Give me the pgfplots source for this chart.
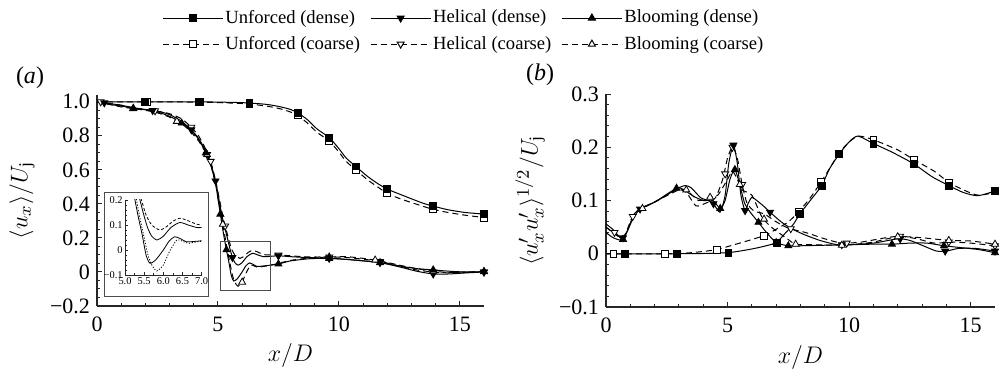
\documentclass[border=0pt]{standalone}
\usepackage{fontspec}
\setmainfont{Liberation Serif}
\usepackage{pgfplots}
\pgfplotsset{compat=1.18}
\usepackage{pgfplotstable}

% ---------- panel (a) line data ----------
\pgfplotstableread{
x y
0 1.0
2 1.0
4.2 1.0
6 0.995
7 0.985
7.6 0.97
8 0.955
8.3 0.935
8.7 0.895
9.1 0.84
9.6 0.79
10.0 0.725
10.3 0.67
10.7 0.62
11.2 0.56
11.6 0.52
12.0 0.487
12.5 0.458
13.0 0.43
13.5 0.403
13.9 0.387
14.5 0.366
15.2 0.35
16 0.34
}\UDa
\pgfplotstableread{
x y
0 1.0
2 1.0
4.2 0.998
6 0.99
7 0.975
7.6 0.958
8 0.94
8.3 0.92
8.7 0.875
9.1 0.82
9.6 0.77
10.0 0.705
10.3 0.65
10.7 0.60
11.2 0.54
11.6 0.5
12.0 0.462
12.5 0.432
13.0 0.408
13.5 0.385
13.9 0.368
14.5 0.35
15.2 0.334
16 0.32
}\UCa
\pgfplotstableread{
x y
0 1.0
0.5 0.99
1.0 0.98
1.5 0.965
2.0 0.955
2.5 0.945
3.0 0.925
3.5 0.885
3.9 0.835
4.2 0.785
4.5 0.71
4.7 0.64
4.9 0.535
5.0 0.46
5.1 0.38
5.2 0.31
5.3 0.25
5.39 0.2
5.5 0.135
5.6 0.085
5.7 0.055
5.83 0.04
6.0 0.055
6.2 0.09
6.43 0.11
6.65 0.1
6.87 0.09
7.0 0.09
7.5 0.095
8.0 0.09
8.5 0.086
9.0 0.083
9.6 0.08
10.2 0.075
10.8 0.068
11.7 0.055
12.5 0.03
13.2 0.005
13.9 -0.012
14.5 -0.012
15.2 -0.006
16 0.0
}\HDa
\pgfplotstableread{
x y
0 1.0
0.5 0.99
1 0.98
1.5 0.965
2.0 0.955
2.5 0.945
3.0 0.93
3.5 0.9
3.9 0.85
4.2 0.8
4.5 0.72
4.7 0.65
4.9 0.54
5.0 0.47
5.1 0.4
5.2 0.33
5.3 0.27
5.43 0.2
5.55 0.14
5.7 0.1
5.91 0.08
6.1 0.095
6.25 0.115
6.43 0.127
6.6 0.12
6.87 0.103
7.0 0.1
7.5 0.1
8.0 0.095
8.5 0.09
9.0 0.088
9.6 0.088
10.3 0.085
11 0.075
11.7 0.062
12.5 0.035
13.2 0.012
13.9 0.0
14.5 -0.005
15.2 -0.003
16 0.0
}\HCa
\pgfplotstableread{
x y
0 1.0
0.5 0.985
1 0.975
1.5 0.962
2.0 0.953
2.5 0.94
3.0 0.915
3.5 0.875
3.9 0.83
4.2 0.78
4.5 0.7
4.7 0.63
4.9 0.52
5.0 0.43
5.1 0.34
5.2 0.25
5.26 0.2
5.35 0.13
5.45 0.06
5.55 -0.02
5.65 -0.053
5.8 -0.04
6.0 0.0
6.15 0.035
6.3 0.053
6.45 0.045
6.6 0.033
6.8 0.034
7.0 0.037
7.5 0.047
8.0 0.065
8.8 0.078
9.6 0.08
10.2 0.075
10.8 0.068
11.7 0.055
12.5 0.035
13.2 0.02
13.9 0.012
14.5 0.005
15.2 0.0
16 0.002
}\BDa
\pgfplotstableread{
x y
0 1.0
0.5 0.985
1 0.97
1.5 0.96
2.0 0.95
2.5 0.935
3.0 0.91
3.3 0.885
3.6 0.86
3.9 0.82
4.2 0.77
4.5 0.7
4.7 0.63
4.9 0.52
5.0 0.44
5.1 0.36
5.2 0.28
5.3 0.2
5.4 0.12
5.5 0.05
5.6 -0.02
5.7 -0.06
5.83 -0.084
6.0 -0.06
6.15 -0.01
6.35 0.04
6.5 0.035
6.65 0.027
6.85 0.032
7.0 0.035
7.5 0.05
8.0 0.068
8.8 0.082
9.6 0.088
10.3 0.09
11 0.08
11.7 0.065
12.5 0.04
13.2 0.02
13.9 0.005
14.5 -0.003
15.2 0.0
16 0.003
}\BCa

\pgfplotsset{
  myaxis/.style={
    scale only axis,
    axis x line*=bottom, axis y line*=left,
    axis line style={line width=0.6pt, black!85},
    every tick/.style={black!85, line width=0.5pt},
    major tick length=2.6pt, minor tick length=1.5pt,
    tick align=inside,
    xmin=0, xmax=16,
    xtick={0,5,10,15}, xticklabels={0,5,10,15}, minor x tick num=4,
    tick label style={font=\fontsize{11}{12}\selectfont},
    xticklabel style={yshift=-2pt},
    label style={font=\fontsize{12.5}{14}\selectfont},
    xlabel={$x/D$},
    xlabel style={at={(axis description cs:0.5,-0.235)}, anchor=center},
    clip=false,
  },
  dense/.style={black, line width=0.5pt, solid},
  coarse/.style={black, line width=0.5pt, dash pattern=on 3pt off 2pt},
  mU/.style={mark=square*, mark size=1.7pt, mark options={solid, fill=black}},
  mUo/.style={mark=square*, mark size=1.7pt, mark options={solid, fill=white}},
  mH/.style={mark=triangle*, mark size=2pt, mark options={rotate=180, solid, fill=black}},
  mHo/.style={mark=triangle*, mark size=2pt, mark options={rotate=180, solid, fill=white}},
  mB/.style={mark=triangle*, mark size=2pt, mark options={solid, fill=black}},
  mBo/.style={mark=triangle*, mark size=2pt, mark options={solid, fill=white}},
}

\begin{document}
\begin{tikzpicture}
\path[use as bounding box] (0,0) rectangle (500pt,185pt);

% ================= panel (a) =================
\begin{axis}[myaxis,
  at={(48.5pt,32pt)}, anchor=south west,
  width=193.5pt, height=105.5pt,
  ymin=-0.2, ymax=1.04,
  ytick={-0.2,0,0.2,0.4,0.6,0.8,1.0},
  yticklabels={−0.2,0,0.2,0.4,0.6,0.8,1.0},
  minor y tick num=3,
  ylabel={$\langle u_x\rangle/U_{\mathrm{j}}$},
  ylabel style={at={(axis description cs:-0.194,0.5)}, anchor=center},
  legend columns=3,
  legend cell align=left,
  legend image code/.code={\draw[mark repeat=2,mark phase=2,#1] plot coordinates {(0pt,0pt)(15pt,0pt)(30pt,0pt)};},
  legend style={draw=none, fill=none, at={(axis description cs:0.948,1.303)}, anchor=center,
    font=\fontsize{9.3}{10.5}\selectfont, column sep=0pt, row sep=3pt,
    nodes={inner sep=1pt},
    /tikz/every even column/.append style={column sep=4pt}},
]
\addlegendimage{dense, mU}\addlegendentry{Unforced (dense)}
\addlegendimage{dense, mH}\addlegendentry{Helical (dense)}
\addlegendimage{dense, mB}\addlegendentry{Blooming (dense)}
\addlegendimage{coarse, mUo}\addlegendentry{Unforced (coarse)}
\addlegendimage{coarse, mHo}\addlegendentry{Helical (coarse)}
\addlegendimage{coarse, mBo}\addlegendentry{Blooming (coarse)}

\addplot[coarse, smooth, tension=0.4, forget plot] table {\UCa};
\addplot[dense, smooth, tension=0.4, forget plot] table {\UDa};
\addplot[coarse, smooth, tension=0.4, forget plot] table {\HCa};
\addplot[dense, smooth, tension=0.4, forget plot] table {\HDa};
\addplot[coarse, smooth, tension=0.4, forget plot] table {\BCa};
\addplot[dense, smooth, tension=0.4, forget plot] table {\BDa};

\addplot[only marks, mUo, forget plot] coordinates {(2.05,1.0)(4.25,1.0)(6.3,0.987)(8.3,0.92)(9.6,0.77)(10.7,0.60)(12.0,0.462)(13.9,0.368)(16,0.32)};
\addplot[only marks, mU, forget plot] coordinates {(1.98,1.0)(4.2,1.0)(6.3,0.992)(8.3,0.935)(9.6,0.79)(10.7,0.62)(12.0,0.487)(13.9,0.387)(16,0.34)};
\addplot[only marks, mHo, forget plot] coordinates {(0.15,1.0)(2.4,0.947)(3.9,0.85)(4.7,0.65)(5.3,0.27)(7.5,0.1)(9.6,0.088)(11.7,0.062)(13.9,0.0)(16,0.0)};
\addplot[only marks, mH, forget plot] coordinates {(0.3,0.994)(2.3,0.949)(3.9,0.835)(4.55,0.69)(4.9,0.535)(5.6,0.085)(7.5,0.095)(9.6,0.08)(11.7,0.055)(13.9,-0.012)(16,0.0)};
\addplot[only marks, mBo, forget plot] coordinates {(1.5,0.96)(3.3,0.885)(4.55,0.69)(5.2,0.28)(6.0,-0.06)(9.6,0.088)(11.5,0.07)(13.9,0.005)(16,0.003)};
\addplot[only marks, mB, forget plot] coordinates {(1.5,0.962)(3.5,0.875)(4.5,0.7)(5.1,0.34)(5.35,0.13)(7.5,0.047)(9.6,0.08)(11.7,0.055)(13.9,0.012)(16,0.002)};

\draw[black!70, line width=0.5pt] (axis cs:5.12,-0.11) rectangle (axis cs:7.19,0.18);
\end{axis}

% inset frame
\draw[black!70, line width=0.5pt, fill=white] (52pt,37pt) rectangle (104pt,89pt);
\begin{axis}[
  scale only axis,
  at={(62.5pt,47.5pt)}, anchor=south west,
  width=38.3pt, height=37.5pt,
  xmin=5, xmax=7, ymin=-0.1, ymax=0.2,
  axis x line*=bottom, axis y line*=left,
  axis line style={line width=0.4pt, black!85},
  every tick/.style={black!85, line width=0.3pt},
  major tick length=1.5pt, minor tick length=0.8pt,
  tick align=inside,
  xtick={5,5.5,6,6.5,7}, xticklabels={5.0,5.5,6.0,6.5,7.0},
  ytick={-0.1,0,0.1,0.2}, yticklabels={−0.1,0,0.1,0.2},
  minor x tick num=1, minor y tick num=4,
  tick label style={font=\fontsize{5.2}{6}\selectfont, inner sep=1pt},
]
\addplot[black, line width=0.4pt, dash pattern=on 1.5pt off 1pt, smooth, tension=0.4] table {\HCa};
\addplot[black, line width=0.4pt, smooth, tension=0.4] table {\HDa};
\addplot[black, line width=0.4pt, dash pattern=on 0.6pt off 0.8pt, smooth, tension=0.4] table {\BCa};
\addplot[black, line width=0.4pt, smooth, tension=0.4] table {\BDa};
\end{axis}

\node[font=\fontsize{12}{14}\selectfont] at (15pt,146pt) {(\textit{a})};
\node[font=\fontsize{12}{14}\selectfont] at (270pt,147.5pt) {(\textit{b})};

% ================= panel (b) =================
\begin{axis}[myaxis,
  at={(303pt,31.5pt)}, anchor=south west,
  width=194.5pt, height=106.5pt,
  ymin=-0.1, ymax=0.3,
  ytick={-0.1,0,0.1,0.2,0.3},
  yticklabels={−0.1,0,0.1,0.2,0.3},
  minor y tick num=4,
  ylabel={$\langle u'_x u'_x\rangle^{1/2}/U_{\mathrm{j}}$},
  ylabel style={at={(axis description cs:-0.195,0.5)}, anchor=center},
]
\addplot[coarse, smooth, tension=0.4] coordinates {(0,0)(2.5,0)(3.5,0.002)(4.5,0.0075)(5.5,0.02)(6.5,0.034)(7.0,0.046)(7.5,0.06)(7.93,0.079)(8.4,0.105)(8.85,0.135)(9.3,0.168)(9.6,0.19)(10,0.21)(10.4,0.221)(11,0.214)(12,0.195)(12.65,0.177)(13.5,0.155)(14.1,0.134)(14.7,0.12)(15.3,0.11)(16,0.115)};
\addplot[dense, smooth, tension=0.4] coordinates {(0,0)(2.9,0)(4,0.0005)(5,0.002)(5.5,0.005)(6,0.009)(6.5,0.014)(7.0,0.021)(7.4,0.04)(7.7,0.055)(7.98,0.075)(8.4,0.1)(8.87,0.128)(9.2,0.16)(9.59,0.187)(10,0.21)(10.36,0.221)(11,0.207)(11.8,0.19)(12.65,0.169)(13.4,0.145)(14.1,0.128)(14.7,0.115)(15.3,0.109)(16,0.118)};
\addplot[coarse, smooth, tension=0.4] coordinates {(0,0.05)(0.3,0.04)(0.7,0.03)(1.1,0.07)(1.4,0.085)(2,0.097)(2.9,0.12)(3.3,0.115)(3.7,0.09)(4.1,0.095)(4.5,0.105)(4.8,0.14)(5.0,0.18)(5.2,0.2)(5.4,0.18)(5.6,0.13)(5.8,0.095)(6.1,0.08)(6.5,0.075)(7.0,0.06)(7.5,0.048)(8.2,0.04)(9,0.028)(9.7,0.02)(10.5,0.022)(11.5,0.03)(12.1,0.033)(12.8,0.028)(13.5,0.02)(14.2,0.022)(15,0.02)(16,0.015)};
\addplot[dense, smooth, tension=0.4] coordinates {(0,0.056)(0.3,0.045)(0.65,0.028)(0.9,0.045)(1.12,0.072)(1.4,0.084)(2.0,0.097)(2.5,0.11)(2.9,0.122)(3.25,0.128)(3.5,0.124)(3.9,0.105)(4.2,0.1)(4.42,0.094)(4.69,0.078)(4.9,0.11)(5.05,0.17)(5.24,0.204)(5.4,0.17)(5.55,0.11)(5.72,0.081)(5.85,0.095)(6.0,0.106)(6.2,0.1)(6.47,0.09)(6.75,0.078)(7.2,0.06)(7.6,0.048)(8.1,0.037)(8.8,0.025)(9.5,0.017)(10,0.017)(11,0.02)(12,0.028)(12.5,0.025)(13.2,0.012)(13.6,0.005)(14,0.005)(14.5,0.01)(15.2,0.01)(16,0.005)};
\addplot[coarse, smooth, tension=0.4] coordinates {(0,0.05)(0.7,0.03)(1.1,0.07)(1.5,0.085)(2.9,0.118)(3.3,0.12)(3.8,0.1)(4.28,0.106)(4.6,0.11)(5.0,0.14)(5.2,0.155)(5.4,0.14)(5.6,0.12)(6.0,0.11)(6.4,0.07)(6.8,0.05)(7.4,0.03)(7.8,0.018)(8.5,0.017)(9.5,0.016)(10.1,0.017)(11,0.022)(12,0.032)(13,0.03)(14.1,0.025)(15,0.024)(16,0.018)};
\addplot[dense, smooth, tension=0.4] coordinates {(0,0.04)(0.3,0.03)(0.7,0.027)(1.1,0.065)(1.4,0.084)(2,0.097)(2.9,0.123)(3.2,0.12)(3.6,0.108)(4.0,0.1)(4.4,0.1)(4.7,0.085)(4.9,0.1)(5.1,0.14)(5.3,0.158)(5.5,0.13)(5.7,0.095)(5.9,0.08)(6.27,0.059)(6.6,0.04)(7.0,0.021)(7.5,0.015)(8,0.015)(9,0.016)(10,0.017)(11,0.018)(11.76,0.018)(12.5,0.02)(13.2,0.02)(13.9,0.015)(14.5,0.012)(15.3,0.008)(16,0.002)};

\addplot[only marks, mUo] coordinates {(0.3,0)(2.43,0)(4.55,0.0075)(6.5,0.034)(7.93,0.079)(8.85,0.135)(11.0,0.214)(12.65,0.177)(14.1,0.134)};
\addplot[only marks, mU] coordinates {(0.78,0)(2.9,0)(5.03,0.002)(7.02,0.021)(7.98,0.075)(8.87,0.128)(9.59,0.187)(11.0,0.207)(12.65,0.169)(14.1,0.128)(16,0.118)};
\addplot[only marks, mHo] coordinates {(0.35,0.04)(1.1,0.07)(4.9,0.15)(5.2,0.2)(5.6,0.13)(7.6,0.047)(9.9,0.02)(12.1,0.033)(14.1,0.022)(16,0.015)};
\addplot[only marks, mH] coordinates {(0.7,0.03)(1.4,0.084)(4.42,0.094)(5.24,0.204)(5.72,0.081)(6.75,0.078)(9.7,0.017)(12.1,0.028)(13.95,0.005)(16,0.005)};
\addplot[only marks, mBo] coordinates {(1.5,0.085)(3.3,0.12)(4.28,0.106)(5.5,0.13)(6.5,0.065)(7.8,0.018)(9.7,0.016)(12.0,0.032)(14.1,0.025)(16,0.018)};
\addplot[only marks, mB] coordinates {(0.7,0.027)(2.9,0.123)(4.7,0.085)(5.3,0.158)(6.27,0.059)(7.0,0.021)(7.5,0.015)(11.76,0.018)(13.9,0.015)(16,0.002)};
\end{axis}
\end{tikzpicture}
\end{document}
